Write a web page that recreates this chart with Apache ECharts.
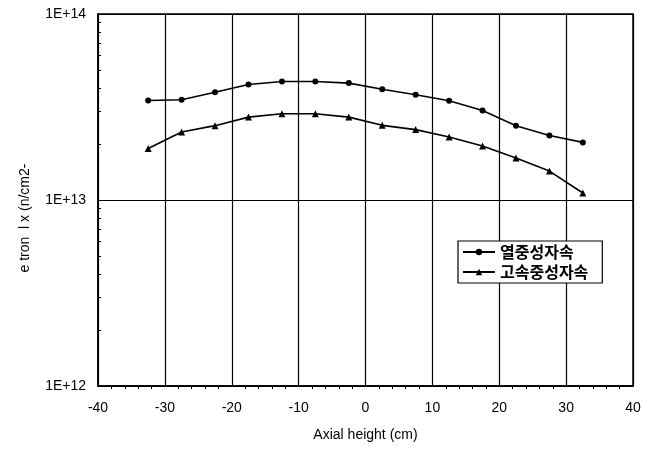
<!DOCTYPE html>
<html>
<head>
<meta charset="utf-8">
<script src="https://cdn.jsdelivr.net/npm/echarts@6/dist/echarts.min.js"></script>
<style>
  html, body { margin: 0; padding: 0; background: #fff; }
  #chart { width: 647px; height: 451px; }
</style>
</head>
<body>
<div id="chart"></div>
<script>
// axial positions (cm)
var heights = [-32.5, -27.5, -22.5, -17.5, -12.5, -7.5, -2.5, 2.5, 7.5, 12.5, 17.5, 22.5, 27.5, 32.5];
// 열중성자속 (thermal)
var thermal = [3.43e13, 3.46e13, 3.80e13, 4.18e13, 4.34e13, 4.34e13, 4.25e13, 3.94e13, 3.68e13, 3.42e13, 3.03e13, 2.51e13, 2.22e13, 2.04e13];
// 고속중성자속 (fast)
var fast = [1.89e13, 2.32e13, 2.51e13, 2.79e13, 2.91e13, 2.91e13, 2.79e13, 2.52e13, 2.39e13, 2.18e13, 1.95e13, 1.68e13, 1.43e13, 1.09e13];
var seriesNames = ['열중성자속', '고속중성자속'];
var yTickLabels = ['1E+12', '1E+13', '1E+14'];

var font = '"Liberation Sans", Arial, sans-serif';
var krFont = '"Noto Sans CJK KR", sans-serif';

// log minor ticks 2..9 per decade
var yMinor = [];
for (var d = 12; d < 14; d++) {
    for (var m = 2; m <= 9; m++) yMinor.push(m * Math.pow(10, d));
}

function pairs(vals) {
    var out = [];
    for (var i = 0; i < heights.length; i++) out.push([heights[i], vals[i]]);
    return out;
}

var myChart = echarts.init(document.getElementById('chart'));
var option = {
    animation: false,
    backgroundColor: '#fff',
    grid: {
        left: 98, right: 14, top: 14, bottom: 65,
        show: true, borderColor: '#000', borderWidth: 1.5
    },
    legend: {
        orient: 'vertical',
        left: 458, top: 241,
        padding: [3, 14, 3, 4],
        itemGap: 4,
        itemWidth: 32, itemHeight: 8,
        backgroundColor: '#fff',
        borderColor: '#000', borderWidth: 1.2,
        textStyle: { fontFamily: krFont, fontSize: 16, fontWeight: 'bold', color: '#000' },
        data: seriesNames
    },
    xAxis: {
        type: 'value',
        min: -40, max: 40, interval: 10,
        name: 'Axial height (cm)',
        nameLocation: 'middle', nameGap: 42,
        nameTextStyle: { fontFamily: font, fontSize: 14, color: '#000' },
        axisLine: { onZero: false, lineStyle: { color: '#000', width: 1.5 } },
        axisTick: { show: false },
        minorTick: { show: true, splitNumber: 5, length: 3, lineStyle: { color: '#000' } },
        axisLabel: { fontFamily: font, fontSize: 14, color: '#000', margin: 15 },
        splitLine: { show: true, lineStyle: { color: '#000', width: 1.2 } }
    },
    yAxis: [
        {
            type: 'log',
            min: 1e12, max: 1e14, logBase: 10,
            name: 'e tron  l x (n/cm2-',
            nameLocation: 'middle', nameGap: 66,
            nameTextStyle: { fontFamily: font, fontSize: 14, color: '#000', padding: [0, 0, 0, -36] },
            axisLine: { onZero: false, lineStyle: { color: '#000', width: 1.5 } },
            axisTick: { show: false },
            axisLabel: {
                fontFamily: font, fontSize: 14, color: '#000', margin: 12,
                formatter: function (v) {
                    var e = Math.round(Math.log10(v));
                    return yTickLabels[e - 12] || '';
                }
            },
            splitLine: { show: true, lineStyle: { color: '#000', width: 1.2 } }
        },
        {
            // carries only the small log ticks on the left edge
            type: 'log',
            min: 1e12, max: 1e14, logBase: 10,
            position: 'left',
            axisLine: { show: false, onZero: false },
            axisTick: { show: true, inside: true, length: 3, customValues: yMinor, lineStyle: { color: '#000' } },
            axisLabel: { show: false },
            splitLine: { show: false }
        }
    ],
    series: [
        {
            name: seriesNames[0], type: 'line',
            data: pairs(thermal),
            symbol: 'circle', symbolSize: 6,
            lineStyle: { color: '#000', width: 1.6 },
            itemStyle: { color: '#000' }
        },
        {
            name: seriesNames[1], type: 'line',
            data: pairs(fast),
            symbol: 'triangle', symbolSize: 7,
            lineStyle: { color: '#000', width: 1.6 },
            itemStyle: { color: '#000' }
        }
    ]
};
myChart.setOption(option);
</script>
</body>
</html>
